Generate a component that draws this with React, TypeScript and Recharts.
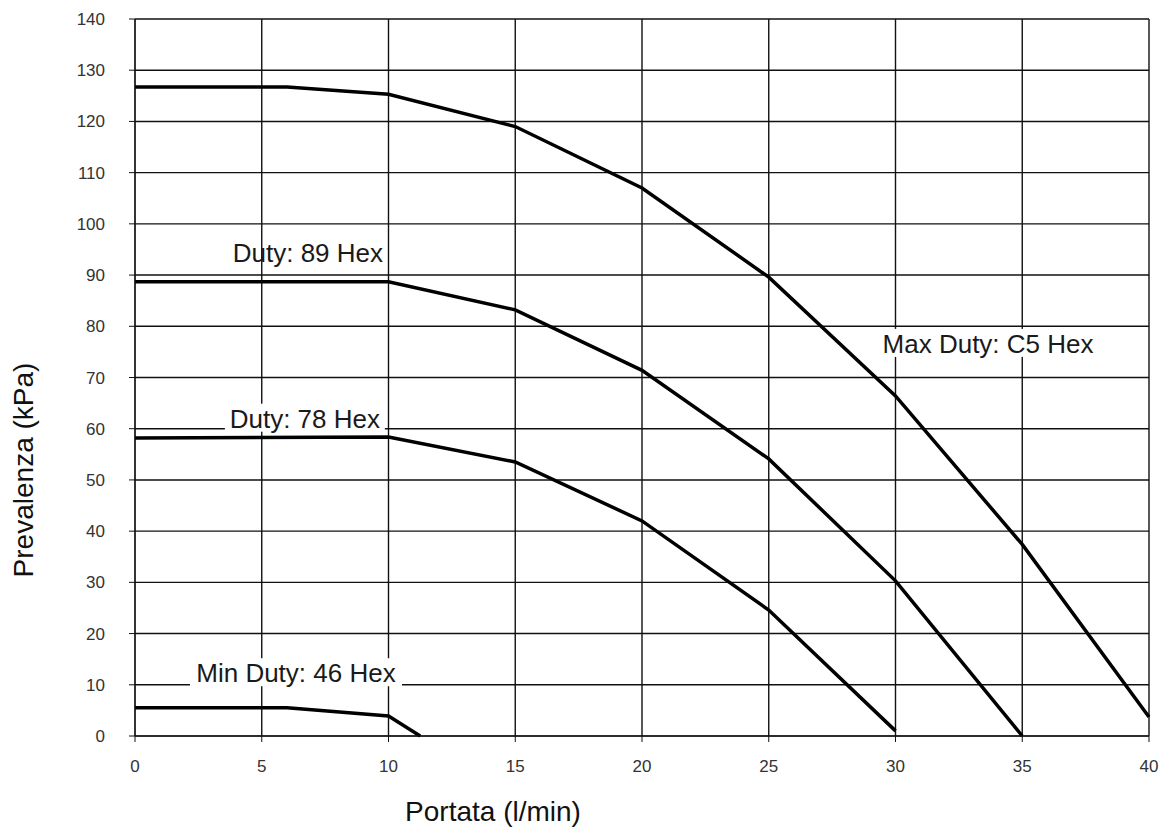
import { LineChart, Line, XAxis, YAxis, CartesianGrid, ReferenceDot } from 'recharts';

// pump curves: flow (l/min) vs head (kPa)
const maxDuty = [
  { x: 0, y: 126.7 }, { x: 6, y: 126.7 }, { x: 10, y: 125.3 }, { x: 15, y: 119 },
  { x: 20, y: 107 }, { x: 25, y: 89.6 }, { x: 30, y: 66.4 }, { x: 35, y: 37.4 }, { x: 40, y: 3.7 },
];
const duty89 = [
  { x: 0, y: 88.7 }, { x: 10, y: 88.7 }, { x: 15, y: 83.2 }, { x: 20, y: 71.4 },
  { x: 25, y: 54.1 }, { x: 30, y: 30.3 }, { x: 35, y: 0 },
];
const duty78 = [
  { x: 0, y: 58.2 }, { x: 10, y: 58.4 }, { x: 15, y: 53.5 }, { x: 20, y: 42 },
  { x: 25, y: 24.6 }, { x: 30, y: 1 },
];
const minDuty = [
  { x: 0, y: 5.5 }, { x: 6, y: 5.5 }, { x: 10, y: 3.9 }, { x: 11.25, y: 0 },
];

const xTicks = [0, 5, 10, 15, 20, 25, 30, 35, 40];
const yTicks = [0, 10, 20, 30, 40, 50, 60, 70, 80, 90, 100, 110, 120, 130, 140];

const curveLabels = [
  { text: 'Duty: 89 Hex', x: 6.82, y: 92.6, bg: false },
  { text: 'Duty: 78 Hex', x: 6.7, y: 60.2, bg: true },
  { text: 'Min Duty: 46 Hex', x: 6.35, y: 10.5, bg: true },
  { text: 'Max Duty: C5 Hex', x: 33.65, y: 74.8, bg: true },
];

const font = 'Arial, "Liberation Sans", sans-serif';

const LabelShape = ({ cx, cy, text, bg }: any) => {
  const w = text.length * 13;
  return (
    <g>
      {bg && <rect x={cx - w / 2 - 2} y={cy - 24} width={w + 4} height={28} fill="#fff" />}
      <text x={cx} y={cy} textAnchor="middle" fontSize={26} fontFamily={font} fill="#1a1a1a">
        {text}
      </text>
    </g>
  );
};

export default function App() {
  return (
    <div style={{ position: 'absolute', left: 0, top: 0, width: 1168, height: 828, background: '#fff' }}>
      <LineChart width={1168} height={828} margin={{ top: 19, right: 19, left: 0, bottom: 0 }}>
        <CartesianGrid stroke="#111" strokeWidth={1.4} />
        <XAxis
          type="number"
          dataKey="x"
          domain={[0, 40]}
          ticks={xTicks}
          height={92}
          tickSize={6}
          tickMargin={18}
          stroke="#111"
          tick={{ fontSize: 17, fontFamily: font, fill: '#333' }}
        />
        <YAxis
          type="number"
          dataKey="y"
          domain={[0, 140]}
          ticks={yTicks}
          width={135}
          tickSize={6}
          tickMargin={24}
          stroke="#111"
          tick={{ fontSize: 17, fontFamily: font, fill: '#333' }}
        />
        {curveLabels.map((l) => (
          <ReferenceDot
            key={l.text}
            x={l.x}
            y={l.y}
            r={0}
            shape={(p: any) => <LabelShape {...p} text={l.text} bg={l.bg} />}
          />
        ))}
        <Line data={maxDuty} dataKey="y" stroke="#000" strokeWidth={3.5} dot={false} isAnimationActive={false} />
        <Line data={duty89} dataKey="y" stroke="#000" strokeWidth={3.5} dot={false} isAnimationActive={false} />
        <Line data={duty78} dataKey="y" stroke="#000" strokeWidth={3.5} dot={false} isAnimationActive={false} />
        <Line data={minDuty} dataKey="y" stroke="#000" strokeWidth={3.5} dot={false} isAnimationActive={false} />
      </LineChart>
      <svg width={1168} height={828} style={{ position: 'absolute', left: 0, top: 0, pointerEvents: 'none' }}>
        <text x={493} y={821} textAnchor="middle" fontSize={28} fontFamily={font} fill="#111">
          Portata (l/min)
        </text>
        <text x={33} y={470} textAnchor="middle" fontSize={28} fontFamily={font} fill="#111" transform="rotate(-90 33 470)">
          Prevalenza (kPa)
        </text>
      </svg>
    </div>
  );
}
